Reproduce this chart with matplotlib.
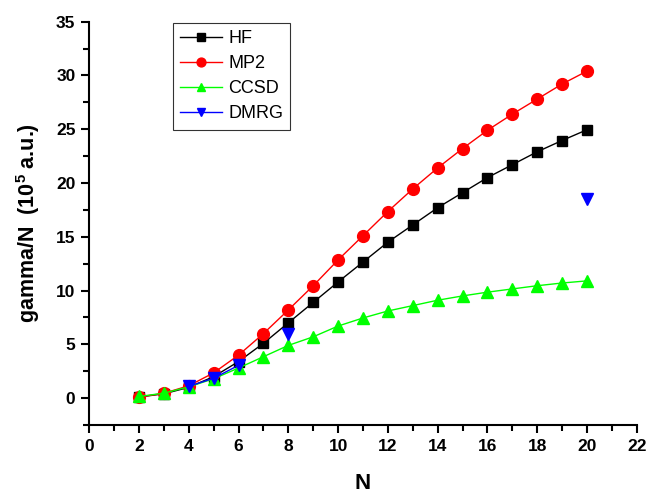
import numpy as np
import matplotlib
matplotlib.use('Agg')
from matplotlib import pyplot as plt
from matplotlib.ticker import MultipleLocator

plt.rcParams['font.family'] = 'Liberation Sans'
plt.rcParams['mathtext.fontset'] = 'custom'
plt.rcParams['mathtext.rm'] = 'Liberation Sans:bold'
plt.rcParams['mathtext.bf'] = 'Liberation Sans:bold'

N = np.arange(2, 21)
hf = [0.1, 0.4, 1.0, 2.0, 3.4, 5.1, 7.0, 8.9, 10.8, 12.65, 14.5, 16.1, 17.7, 19.1, 20.5, 21.7, 22.9, 23.95, 24.95]
mp2 = [0.1, 0.45, 1.15, 2.35, 4.0, 6.0, 8.2, 10.45, 12.85, 15.1, 17.35, 19.45, 21.4, 23.2, 24.9, 26.4, 27.8, 29.2, 30.4]
ccsd = [0.15, 0.46, 1.05, 1.8, 2.8, 3.85, 4.9, 5.7, 6.7, 7.45, 8.1, 8.6, 9.1, 9.5, 9.85, 10.15, 10.45, 10.7, 10.9]
# gaps (nan) where DMRG was not computed
N_dmrg = [4, 5, 6, 7, 8, 9, 20]
dmrg = [1.1, 1.85, 3.05, np.nan, 6.0, np.nan, 18.5]

fig = plt.figure(figsize=(6.49, 4.94), dpi=100)
ax = fig.add_axes([0.1376, 0.1397, 0.8434, 0.8164])

ax.plot(N, hf, '-s', color='black', lw=1, ms=7.5, label='HF')
ax.plot(N, mp2, '-o', color='#ff0000', lw=1, ms=8.5, label='MP2')
ax.plot(N, ccsd, '-^', color='#00ff00', lw=1, ms=8.5, label='CCSD')
ax.plot(N_dmrg, dmrg, '-v', color='#0000ff', lw=1, ms=8.5, label='DMRG')

ax.set_xlim(0, 22)
ax.set_ylim(-2.5, 35)
ax.xaxis.set_major_locator(MultipleLocator(2))
ax.xaxis.set_minor_locator(MultipleLocator(1))
ax.yaxis.set_major_locator(MultipleLocator(5))
ax.yaxis.set_minor_locator(MultipleLocator(2.5))
ax.spines['top'].set_visible(False)
ax.spines['right'].set_visible(False)
ax.spines['left'].set_linewidth(1.5)
ax.spines['bottom'].set_linewidth(1.5)
ax.tick_params(which='major', direction='out', length=6, width=1.5, labelsize=12.5, pad=4)
ax.tick_params(which='minor', direction='out', length=4, width=1.5)
for lab in ax.get_xticklabels() + ax.get_yticklabels():
    lab.set_fontweight('bold')

ax.set_xlabel('N', fontsize=16, fontweight='bold', labelpad=14)
ax.set_ylabel(r'gamma/N  (10$^{5}$ a.u.)', fontsize=15.5, fontweight='bold', labelpad=10)

leg = ax.legend(loc='upper left', bbox_to_anchor=(0.153, 0.997), borderaxespad=0,
                fontsize=13, frameon=True, fancybox=False, edgecolor='black',
                handlelength=2.3, handletextpad=0.35, labelspacing=0.45, borderpad=0.4,
                numpoints=1, markerscale=0.75)
leg.get_frame().set_linewidth(0.8)

fig.savefig('out.png', dpi=100)
